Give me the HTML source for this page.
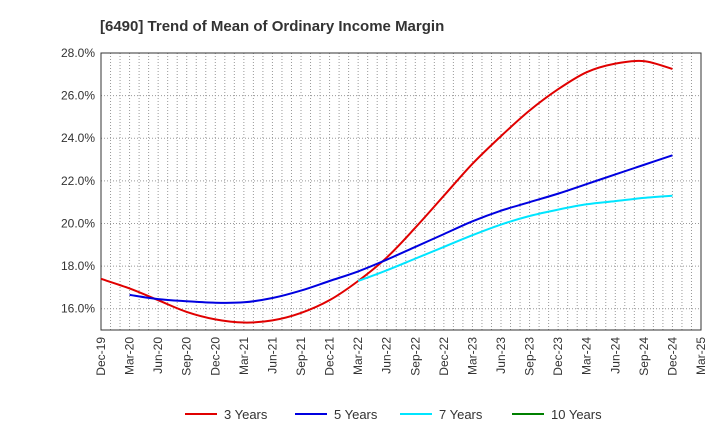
<!DOCTYPE html>
<html><head><meta charset="utf-8"><style>
body{margin:0;background:#fff;font-family:"Liberation Sans",sans-serif;}
</style></head><body>
<svg id="c" width="720" height="440" xmlns="http://www.w3.org/2000/svg">
<text x="100" y="31" font-size="15" font-weight="bold" fill="#333">[6490]  Trend of Mean of Ordinary Income Margin</text>
<g id="grid"></g><g id="axes"></g><g id="series"></g><g id="legend"></g>
</svg>
<script>
const xLabels=["Dec-19","Mar-20","Jun-20","Sep-20","Dec-20","Mar-21","Jun-21","Sep-21","Dec-21","Mar-22","Jun-22","Sep-22","Dec-22","Mar-23","Jun-23","Sep-23","Dec-23","Mar-24","Jun-24","Sep-24","Dec-24","Mar-25"];
const yTicks=[16,18,20,22,24,26,28];
const s3=[17.4,16.95,16.4,15.85,15.5,15.35,15.45,15.8,16.4,17.3,18.4,19.8,21.3,22.8,24.1,25.3,26.3,27.1,27.5,27.62,27.25];
const s5=[null,16.65,16.45,16.35,16.28,16.3,16.5,16.85,17.3,17.75,18.3,18.9,19.5,20.1,20.6,21.0,21.4,21.85,22.3,22.75,23.2];
const s7=[null,null,null,null,null,null,null,null,null,17.3,17.8,18.35,18.9,19.45,19.95,20.35,20.65,20.9,21.05,21.2,21.3];
const s10=[];
const L=101,R=701,T=53,B=330,ymin=15,ymax=28;
const X=i=>L+i*(R-L)/21, Y=v=>T+(ymax-v)*(B-T)/(ymax-ymin);
const NS="http://www.w3.org/2000/svg";
function mk(p,t,a){const e=document.createElementNS(NS,t);for(const k in a)e.setAttribute(k,a[k]);p.appendChild(e);return e;}
const g=document.getElementById('grid'),ax=document.getElementById('axes'),se=document.getElementById('series'),lg=document.getElementById('legend');
for(let m=1;m<63;m++){const x=L+m*(R-L)/63;
const l=mk(g,'line',{x1:x,x2:x,y1:T,y2:B,stroke:'#999','stroke-dasharray':'1,2','stroke-width':1});

}
yTicks.forEach(v=>{const l=mk(g,'line',{x1:L,x2:R,y1:Y(v),y2:Y(v),stroke:'#999','stroke-dasharray':'1,2'});


const t=mk(ax,'text',{x:L-6,y:Y(v)+4,'text-anchor':'end','font-size':12,fill:'#333'});t.textContent=v.toFixed(1)+'%';

});
const fr=mk(ax,'rect',{x:L,y:T,width:R-L,height:B-T,fill:'none',stroke:'#333'});


xLabels.forEach((s,i)=>{const t=mk(ax,'text',{transform:`translate(${X(i)+4},${B+7}) rotate(-90)`,'text-anchor':'end','font-size':12,fill:'#333'});t.textContent=s;

});
function path(arr){const p=[];arr.forEach((v,i)=>{if(v!=null)p.push([X(i),Y(v)]);});if(p.length<2)return '';
let d=`M${p[0][0]},${p[0][1]}`;for(let i=0;i<p.length-1;i++){const a=p[i-1]||p[i],b=p[i],c=p[i+1],e=p[i+2]||c;
d+=`C${b[0]+(c[0]-a[0])/6},${b[1]+(c[1]-a[1])/6} ${c[0]-(e[0]-b[0])/6},${c[1]-(e[1]-b[1])/6} ${c[0]},${c[1]}`;}return d;}
const ser=[[s3,'#e00000','3 Years'],[s5,'#0000e0','5 Years'],[s7,'#00e5ff','7 Years'],[s10,'#008000','10 Years']];
ser.forEach(([a,c,n],k)=>{const d=path(a);if(d){const p=mk(se,'path',{d:d,fill:'none',stroke:c,'stroke-width':2});

}
const lx=[185,295,400,512][k];
const gg=mk(lg,'g',{});


mk(gg,'line',{x1:lx,x2:lx+32,y1:414,y2:414,stroke:c,'stroke-width':2});
const t=mk(gg,'text',{x:lx+39,y:419,'font-size':13,fill:'#333'});t.textContent=n;});
</script>
</body></html>
